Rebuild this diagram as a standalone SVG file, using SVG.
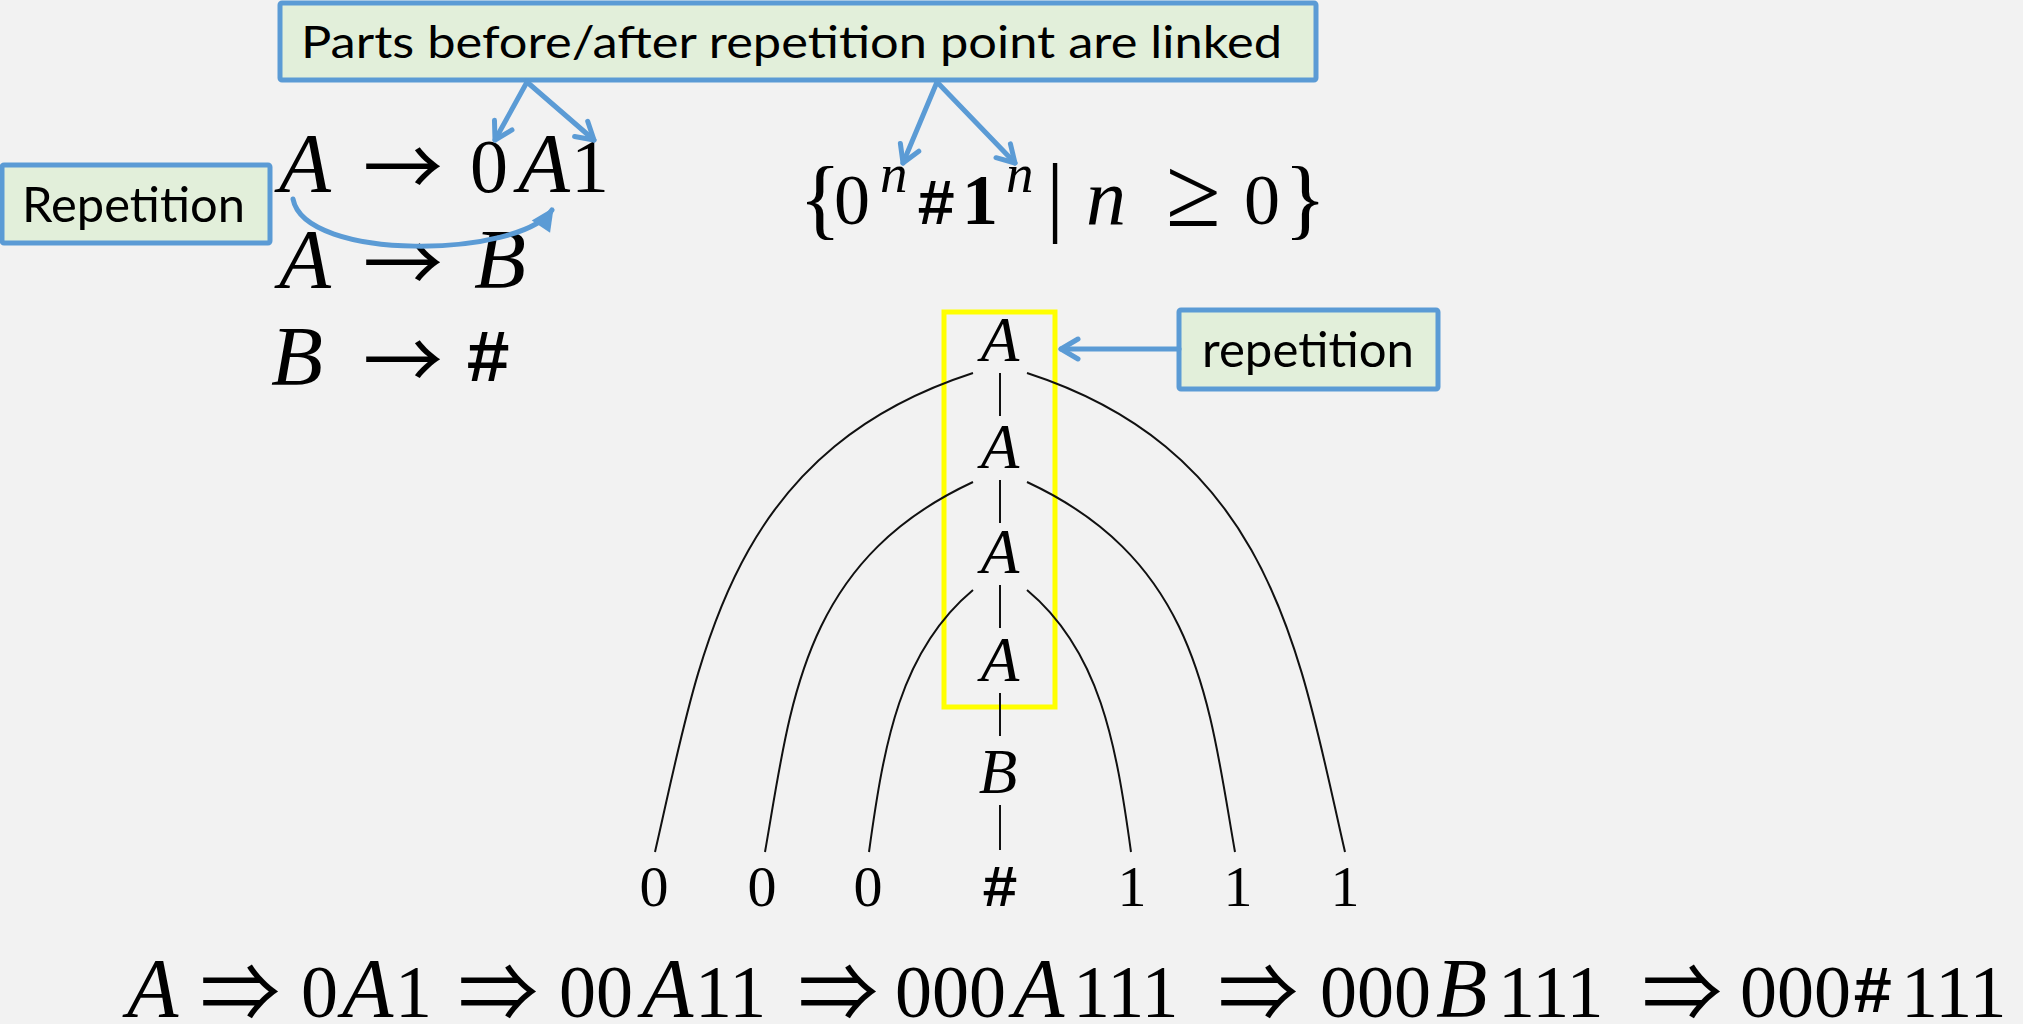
<svg xmlns="http://www.w3.org/2000/svg" width="2023" height="1024" viewBox="0 0 2023 1024">
<style>
.bg{fill:#F2F2F2}
.box{fill:#E2EFDA;stroke:#5B9BD5;stroke-width:5}
.lbl{font-family:Lato,"Open Sans",sans-serif;fill:#000}
.it{font-family:"Liberation Serif",serif;font-style:italic;fill:#000}
.rm{font-family:"Liberation Serif",serif;fill:#000}
.ar{font-family:"Noto Sans CJK JP","Liberation Serif",sans-serif;fill:#000}
.tt{font-family:"Liberation Mono",monospace;fill:#000;font-weight:bold}
.edge{fill:none;stroke:#111;stroke-width:2}
.blue{fill:none;stroke:#5B9BD5;stroke-width:5;stroke-linecap:round}
</style>
<defs>
<marker id="chev" markerUnits="userSpaceOnUse" orient="auto" overflow="visible" markerWidth="1" markerHeight="1">
<path d="M-17,-10 L0,0 L-17,10" fill="none" stroke="#5B9BD5" stroke-width="5" stroke-linecap="round" stroke-linejoin="round"/>
</marker>
<marker id="tri" markerUnits="userSpaceOnUse" orient="auto" overflow="visible" markerWidth="1" markerHeight="1">
<path d="M-20,-11 L3,0 L-20,11 Z" fill="#5B9BD5"/>
</marker>
</defs>
<rect class="bg" x="0" y="0" width="2023" height="1024"/>

<g id="node-linked-label">
<rect class="box" x="280" y="3" width="1036" height="77" rx="2"/>
<text class="lbl" x="301" y="58" font-size="45" textLength="981" lengthAdjust="spacingAndGlyphs">Parts before/after repetition point are linked</text>
</g>

<g id="node-repetition-label">
<rect class="box" x="2" y="165" width="268" height="78" rx="2"/>
<text class="lbl" x="22" y="222" font-size="49" textLength="223" lengthAdjust="spacingAndGlyphs">Repetition</text>
</g>

<g id="node-repetition2-label">
<rect class="box" x="1179" y="310" width="259" height="79" rx="2"/>
<text class="lbl" x="1202" y="367" font-size="49" textLength="212" lengthAdjust="spacingAndGlyphs">repetition</text>
</g>

<g id="node-rules">
<text class="it" x="279" y="192" font-size="85">A</text>
<text class="ar" x="363" y="196" font-size="80">→</text>
<text class="rm" x="470" y="192" font-size="76">0</text>
<text class="it" x="518" y="192" font-size="85">A</text>
<text class="rm" x="571" y="192" font-size="76">1</text>
<text class="it" x="279" y="288" font-size="85">A</text>
<text class="ar" x="363" y="292" font-size="80">→</text>
<text class="it" x="474" y="288" font-size="85">B</text>
<text class="it" x="271" y="385" font-size="85">B</text>
<text class="ar" x="363" y="389" font-size="80">→</text>
<text class="tt" x="466" y="381" font-size="74">#</text>
</g>

<g id="node-language">
<text class="rm" x="799" y="228" font-size="88">{</text>
<text class="rm" x="834" y="224" font-size="72">0</text>
<text class="it" x="880" y="192" font-size="55">n</text>
<text class="tt" x="917" y="224" font-size="64">#</text>
<text class="rm" x="962" y="224" font-size="72" font-weight="bold">1</text>
<text class="it" x="1006" y="192" font-size="55">n</text>
<text class="rm" x="1055" y="225" font-size="88" text-anchor="middle">|</text>
<text class="it" x="1086" y="224" font-size="80">n</text>
<text class="rm" x="1166" y="226" font-size="100">≥</text>
<text class="rm" x="1244" y="224" font-size="72">0</text>
<text class="rm" x="1284" y="228" font-size="88">}</text>
</g>

<g id="tree-A1"><text class="it" x="1000" y="361" font-size="63" text-anchor="middle">A</text></g>
<g id="tree-A2"><text class="it" x="1000" y="468" font-size="63" text-anchor="middle">A</text></g>
<g id="tree-A3"><text class="it" x="1000" y="573" font-size="63" text-anchor="middle">A</text></g>
<g id="tree-A4"><text class="it" x="1000" y="681" font-size="63" text-anchor="middle">A</text></g>
<g id="tree-B"><text class="it" x="998" y="793" font-size="63" text-anchor="middle">B</text></g>
<g id="tree-leaves">
<text class="rm" x="654" y="906" font-size="58" text-anchor="middle">0</text>
<text class="rm" x="762" y="906" font-size="58" text-anchor="middle">0</text>
<text class="rm" x="868" y="906" font-size="58" text-anchor="middle">0</text>
<text class="tt" x="1000" y="906" font-size="60" text-anchor="middle">#</text>
<text class="rm" x="1132" y="906" font-size="58" text-anchor="middle">1</text>
<text class="rm" x="1238" y="906" font-size="58" text-anchor="middle">1</text>
<text class="rm" x="1345" y="906" font-size="58" text-anchor="middle">1</text>
</g>

<g id="node-repetition-box">
<rect x="944" y="312" width="111" height="395" fill="none" stroke="#FFFF00" stroke-width="5"/>
</g>

<g id="node-derivation">
<text class="it" x="127" y="1017" font-size="84">A</text>
<text class="ar" x="200" y="1021" font-size="80">⇒</text>
<text class="rm" x="301" y="1017" font-size="74">0</text>
<text class="it" x="342" y="1017" font-size="84">A</text>
<text class="rm" x="395" y="1017" font-size="74">1</text>
<text class="ar" x="458" y="1021" font-size="80">⇒</text>
<text class="rm" x="559" y="1017" font-size="74">00</text>
<text class="it" x="642" y="1017" font-size="84">A</text>
<text class="rm" x="695" y="1017" font-size="74">11</text>
<text class="ar" x="798" y="1021" font-size="80">⇒</text>
<text class="rm" x="895" y="1017" font-size="74">000</text>
<text class="it" x="1013" y="1017" font-size="84">A</text>
<text class="rm" x="1073" y="1017" font-size="74">111</text>
<text class="ar" x="1218" y="1021" font-size="80">⇒</text>
<text class="rm" x="1320" y="1017" font-size="74">000</text>
<text class="it" x="1436" y="1017" font-size="84">B</text>
<text class="rm" x="1498" y="1017" font-size="74">111</text>
<text class="ar" x="1642" y="1021" font-size="80">⇒</text>
<text class="rm" x="1740" y="1017" font-size="74">000</text>
<text class="tt" x="1853" y="1012" font-size="66">#</text>
<text class="rm" x="1901" y="1017" font-size="74">111</text>
</g>

<g id="connectors">
<g id="tree-edges">
<line class="edge" x1="1000" y1="373" x2="1000" y2="416"/>
<line class="edge" x1="1000" y1="480" x2="1000" y2="523"/>
<line class="edge" x1="1000" y1="585" x2="1000" y2="628"/>
<line class="edge" x1="1000" y1="693" x2="1000" y2="736"/>
<line class="edge" x1="1000" y1="805" x2="1000" y2="850"/>
<path class="edge" d="M973,373 C726,453 700,657 655,852"/>
<path class="edge" d="M973,482 C801,562 791,704 765,852"/>
<path class="edge" d="M973,590 C900,651 884,743 869,852"/>
<path class="edge" d="M1027,373 C1274,453 1300,657 1345,852"/>
<path class="edge" d="M1027,482 C1199,562 1209,704 1235,852"/>
<path class="edge" d="M1027,590 C1100,651 1116,743 1131,852"/>
</g>
<line class="blue" x1="527" y1="82" x2="495" y2="140" marker-end="url(#chev)"/>
<line class="blue" x1="527" y1="82" x2="594" y2="140" marker-end="url(#chev)"/>
<line class="blue" x1="937" y1="82" x2="903" y2="163" marker-end="url(#chev)"/>
<line class="blue" x1="937" y1="82" x2="1015" y2="163" marker-end="url(#chev)"/>
<line class="blue" x1="1179" y1="349" x2="1061" y2="349" marker-end="url(#chev)"/>
<path class="blue" d="M293,199 C305,262 520,258 552,210" marker-end="url(#tri)"/>
</g>
</svg>
